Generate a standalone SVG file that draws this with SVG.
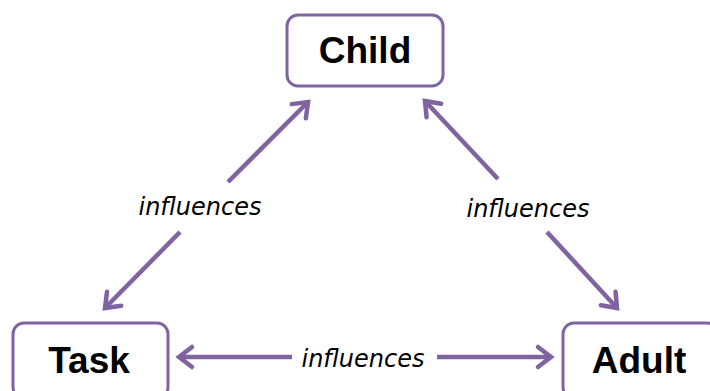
<svg xmlns="http://www.w3.org/2000/svg" width="710" height="391" viewBox="0 0 710 391">
<style>
.box{fill:#fff;stroke:#8064A2;stroke-width:3}
.lbl{font-family:"Liberation Sans",Arial,sans-serif;font-weight:bold;font-size:37px;fill:#000;text-anchor:middle}
.inf{font-family:"DejaVu Sans",sans-serif;font-style:italic;font-size:24px;fill:#000;text-anchor:middle}
.con{stroke:#8064A2;stroke-width:4.5;fill:none;marker-end:url(#ah)}
</style>
<defs>
<marker id="ah" markerUnits="userSpaceOnUse" markerWidth="30" markerHeight="30" viewBox="-20 -15 30 30" refX="0" refY="0" orient="auto">
<path d="M-13,-10 L0,0 L-13,10" fill="none" stroke="#8064A2" stroke-width="4.5" stroke-linecap="round" stroke-linejoin="miter"/>
</marker>
</defs>
<rect width="710" height="391" fill="#fff"/>
<g id="connectors">
<line class="con" x1="228" y1="182" x2="308" y2="102"/>
<line class="con" x1="180" y1="232" x2="105" y2="308"/>
<line class="con" x1="498" y1="179" x2="425" y2="101"/>
<line class="con" x1="547" y1="232" x2="617" y2="308"/>
<line class="con" x1="292" y1="357" x2="179" y2="357"/>
<line class="con" x1="437" y1="357" x2="551" y2="357"/>
<text class="inf" x="200" y="215">influences</text>
<text class="inf" x="528" y="217">influences</text>
<text class="inf" x="363" y="367">influences</text>
</g>
<g id="child">
<rect class="box" x="287" y="15" width="156" height="71" rx="11"/>
<text class="lbl" x="365" y="63">Child</text>
</g>
<g id="task">
<rect class="box" x="13" y="323" width="155" height="75" rx="11"/>
<text class="lbl" x="89" y="373">Task</text>
</g>
<g id="adult">
<rect class="box" x="563" y="323" width="155" height="75" rx="11"/>
<text class="lbl" x="639" y="373">Adult</text>
</g>
</svg>
